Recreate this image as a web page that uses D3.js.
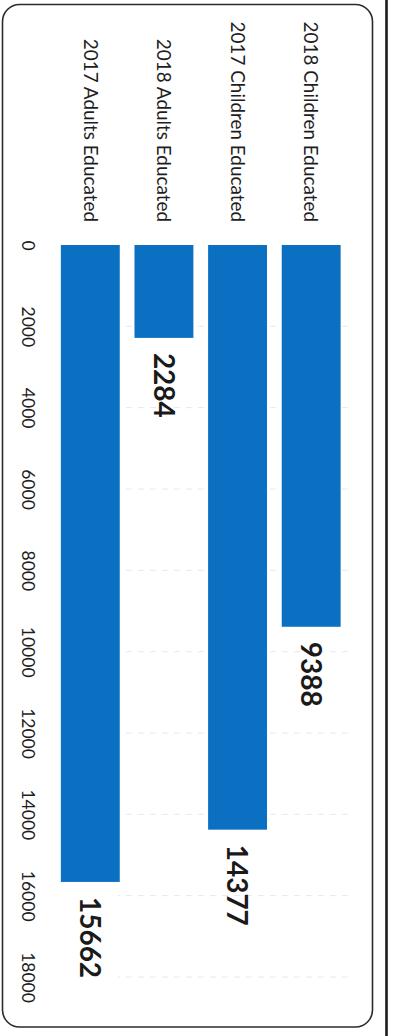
<!DOCTYPE html>
<html>
<head>
<meta charset="utf-8">
<script src="https://cdn.jsdelivr.net/npm/d3@7"></script>
<style>
  html, body { margin: 0; padding: 0; background: #fff; }
  svg { display: block; }
</style>
</head>
<body>
<svg id="chart" width="393" height="1036"></svg>
<script>
// Categories, listed top to bottom as in an ordinary horizontal bar chart
const categories = [
  "2018 Children Educated",
  "2017 Children Educated",
  "2018 Adults Educated",
  "2017 Adults Educated"
];
const values = [9388, 14377, 2284, 15662];
const tickValues = [0, 2000, 4000, 6000, 8000, 10000, 12000, 14000, 16000, 18000];

const W = 393, H = 1036;
const svg = d3.select("#chart");

// Card frame
svg.append("rect")
  .attr("x", 2.5).attr("y", 4.5)
  .attr("width", 370).attr("height", 1022.5)
  .attr("rx", 17).attr("ry", 17)
  .attr("fill", "#fff")
  .attr("stroke", "#2b2b2b")
  .attr("stroke-width", 1.6);

// Page edge line on the right
svg.append("line")
  .attr("x1", 386.5).attr("x2", 386.5)
  .attr("y1", 0).attr("y2", H)
  .attr("stroke", "#1a1a1a")
  .attr("stroke-width", 2.6);

// The chart is a horizontal bar chart turned a quarter turn clockwise
const g = svg.append("g")
  .attr("transform", `translate(${W},0) rotate(90)`);

const x = d3.scaleLinear().domain([0, 18000]).range([245, 977]);
const y = d3.scaleBand()
  .domain(categories)
  .range([45, 339.5])
  .paddingInner(0.2)
  .paddingOuter(0.1);

// Gridlines
g.append("g")
  .selectAll("line")
  .data(tickValues.slice(1))
  .join("line")
  .attr("x1", d => x(d)).attr("x2", d => x(d))
  .attr("y1", 45).attr("y2", 275)
  .attr("stroke", "#e8e8e8")
  .attr("stroke-width", 1)
  .attr("stroke-dasharray", "6,6");

// Value axis (tick labels only)
const axis = g.append("g")
  .attr("transform", "translate(0,355)")
  .call(d3.axisBottom(x).tickValues(tickValues).tickSize(0).tickPadding(4).tickFormat(d3.format("d")));
axis.select(".domain").remove();
axis.selectAll("text")
  .attr("font-family", "Lato, sans-serif")
  .attr("font-size", 17.5)
  .attr("fill", "#1e1e1e");

// Category labels
g.append("g")
  .selectAll("text")
  .data(categories)
  .join("text")
  .attr("x", 222)
  .attr("y", d => y(d) + y.bandwidth() / 2)
  .attr("dy", "0.36em")
  .attr("text-anchor", "end")
  .attr("font-family", "Lato, sans-serif")
  .attr("font-size", 18.9)
  .attr("fill", "#1e1e1e")
  .text(d => d);

// Bars
g.append("g")
  .selectAll("rect")
  .data(categories)
  .join("rect")
  .attr("x", x(0))
  .attr("y", d => y(d))
  .attr("width", (d, i) => x(values[i]) - x(0))
  .attr("height", y.bandwidth())
  .attr("fill", "#0b6fc2");

// Value labels at the bar ends
g.append("g")
  .selectAll("text")
  .data(categories)
  .join("text")
  .attr("x", (d, i) => x(values[i]) + 15)
  .attr("y", d => y(d) + y.bandwidth() / 2)
  .attr("dy", "0.36em")
  .attr("text-anchor", "start")
  .attr("font-family", "Lato, sans-serif")
  .attr("font-weight", "bold")
  .attr("font-size", 28)
  .attr("fill", "#1a1a1a")
  .text((d, i) => values[i]);
</script>
</body>
</html>
